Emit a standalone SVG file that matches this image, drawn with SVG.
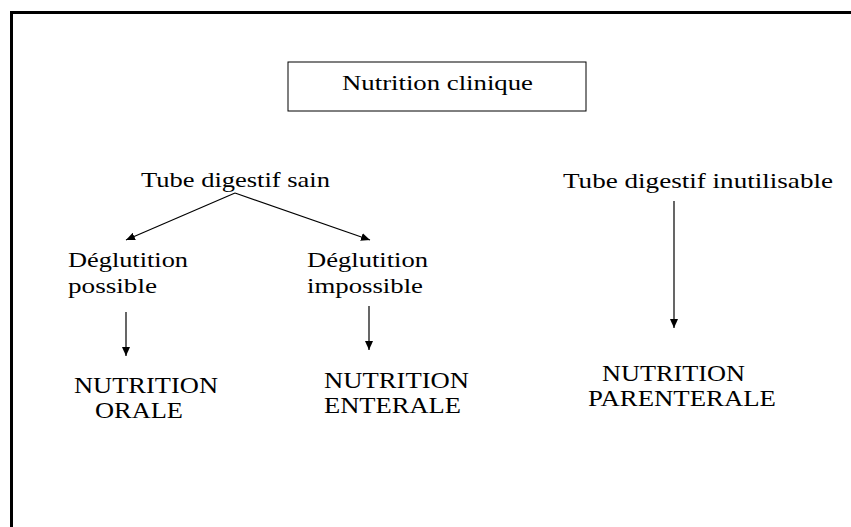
<svg xmlns="http://www.w3.org/2000/svg" width="851" height="527" viewBox="0 0 851 527">
<style>
.t{font-size:21px}
.c{font-size:23px}
.ln{stroke:#000;stroke-width:1.2;fill:none;marker-end:url(#ah)}
</style>
<defs>
<marker id="ah" markerUnits="userSpaceOnUse" markerWidth="10" markerHeight="8" refX="9" refY="4" orient="auto">
<path d="M0,0 L9,4 L0,8 Z" fill="#000"/>
</marker>
</defs>
<rect width="851" height="527" fill="#fff"/>
<path d="M11.5,527 V12.5 H851" fill="none" stroke="#000" stroke-width="3"/>
<g font-family="Liberation Serif, Times New Roman, serif" fill="#000">
<g id="n-clinique">
<rect x="288" y="62" width="298" height="49" fill="#fff" stroke="#000" stroke-width="1"/>
<text x="342" y="90" font-size="22" textLength="191" lengthAdjust="spacingAndGlyphs">Nutrition clinique</text>
</g>
<g id="n-sain"><text class="t" x="141" y="187" textLength="189" lengthAdjust="spacingAndGlyphs">Tube digestif sain</text></g>
<g id="n-inutil"><text class="t" x="563" y="188" textLength="270" lengthAdjust="spacingAndGlyphs">Tube digestif inutilisable</text></g>
<g id="n-possible">
<text class="t" x="68" y="267" textLength="120" lengthAdjust="spacingAndGlyphs">Déglutition</text>
<text class="t" x="68" y="293" textLength="89" lengthAdjust="spacingAndGlyphs">possible</text>
</g>
<g id="n-impossible">
<text class="t" x="307" y="267" textLength="121" lengthAdjust="spacingAndGlyphs">Déglutition</text>
<text class="t" x="307" y="293" textLength="116" lengthAdjust="spacingAndGlyphs">impossible</text>
</g>
<g id="n-orale">
<text class="c" x="74" y="393" textLength="144" lengthAdjust="spacingAndGlyphs">NUTRITION</text>
<text class="c" x="95" y="418" textLength="88" lengthAdjust="spacingAndGlyphs">ORALE</text>
</g>
<g id="n-enterale">
<text class="c" x="324" y="388" textLength="145" lengthAdjust="spacingAndGlyphs">NUTRITION</text>
<text class="c" x="324" y="413" textLength="137" lengthAdjust="spacingAndGlyphs">ENTERALE</text>
</g>
<g id="n-parenterale">
<text class="c" x="602" y="381" textLength="143" lengthAdjust="spacingAndGlyphs">NUTRITION</text>
<text class="c" x="588" y="406" textLength="188" lengthAdjust="spacingAndGlyphs">PARENTERALE</text>
</g>
</g>
<g id="connectors">
<line class="ln" x1="235" y1="193" x2="126" y2="240"/>
<line class="ln" x1="235" y1="193" x2="370" y2="240"/>
<line class="ln" x1="126" y1="312" x2="126" y2="356"/>
<line class="ln" x1="369" y1="306" x2="369" y2="350"/>
<line class="ln" x1="674" y1="201" x2="674" y2="328"/>
</g>
</svg>
